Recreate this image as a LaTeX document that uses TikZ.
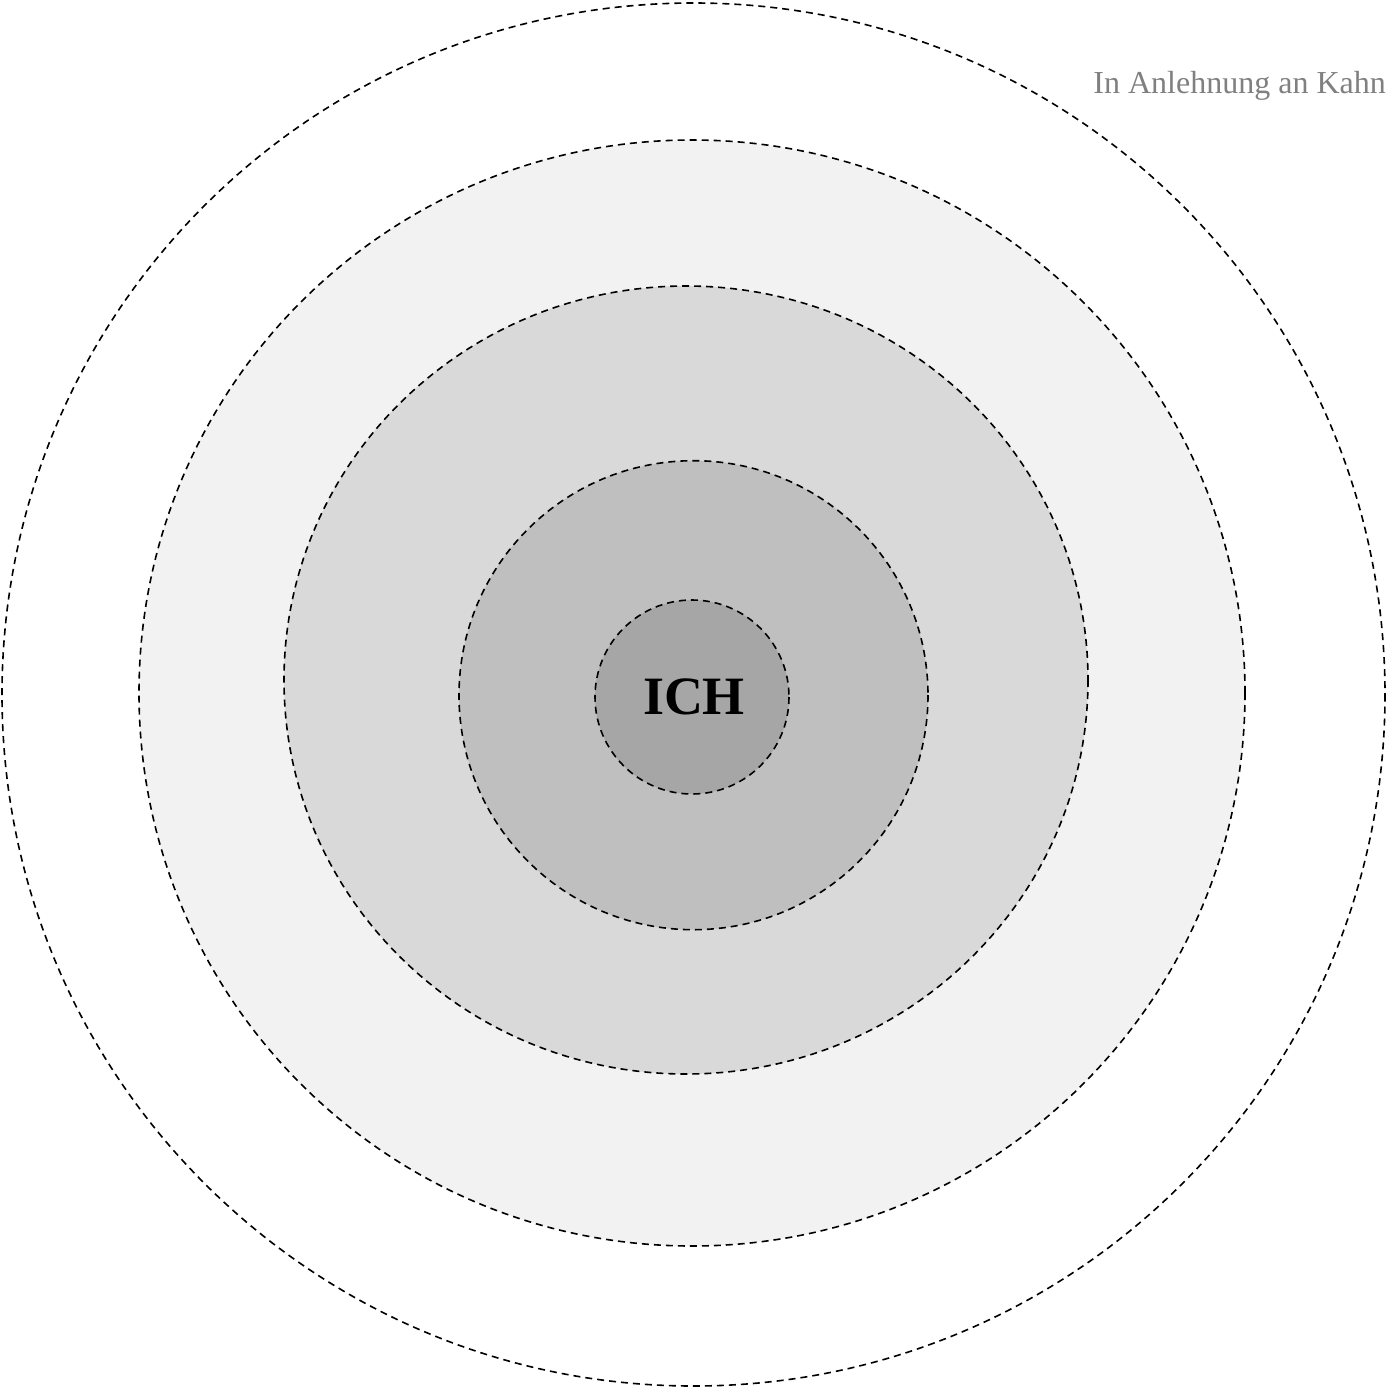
\documentclass[tikz,border=0pt]{standalone}
\usepackage{fontspec}
\setmainfont{Liberation Serif}
\definecolor{ringA}{HTML}{F2F2F2}
\definecolor{ringB}{HTML}{D9D9D9}
\definecolor{ringC}{HTML}{BFBFBF}
\definecolor{ringD}{HTML}{A6A6A6}
\definecolor{notegray}{HTML}{808080}
\begin{document}
\begin{tikzpicture}[x=1pt,y=-1pt,
  ring/.style={draw=black,line width=1.6pt,dash pattern=on 7pt off 5pt}]
\useasboundingbox (0,0) rectangle (1386,1387);
\draw[ring,fill=white] (693.5,694.5) circle[radius=691.5];
\draw[ring,fill=ringA] (692,693) circle[radius=553];
\draw[ring,fill=ringB] (686,680) ellipse[x radius=402,y radius=394];
\draw[ring,fill=ringC] (693.5,695.2) circle[radius=234.5];
\draw[ring,fill=ringD] (692,697) circle[radius=97];
\node (ich) at (694,697) {\fontsize{54}{60}\selectfont\bfseries ICH};
\node[anchor=base east,inner sep=0pt,text=notegray] (note) at (1386,93) {\fontsize{32}{38}\selectfont In Anlehnung an Kahn};
\end{tikzpicture}
\end{document}
